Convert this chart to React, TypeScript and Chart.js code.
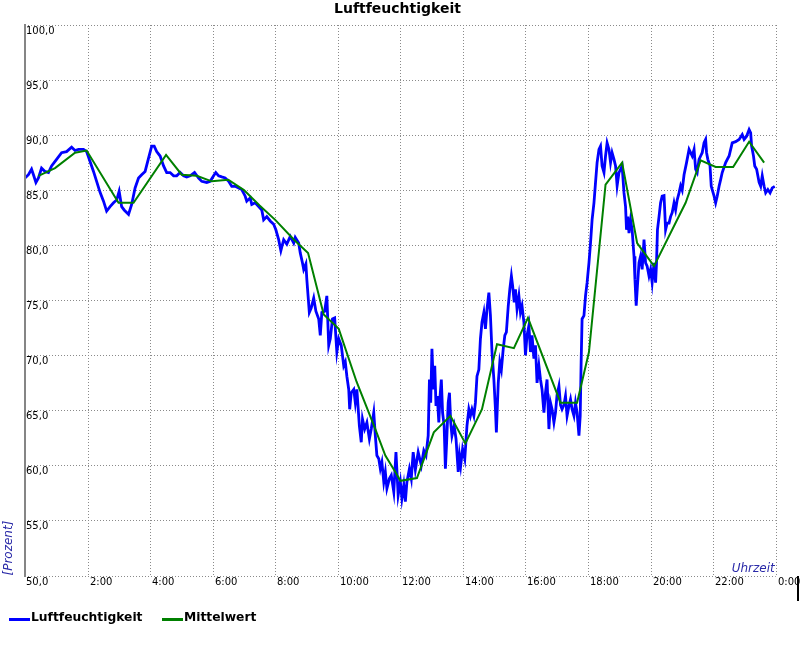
import React, { useEffect, useRef } from "react";
import { Chart, registerables } from "chart.js";

Chart.register(...registerables);

const chartTitle = "Luftfeuchtigkeit";
const seriesNames = ["Luftfeuchtigkeit", "Mittelwert"];
const xAxisTitle = "Uhrzeit";
const yAxisTitle = "[Prozent]";

const xTickHours = [2, 4, 6, 8, 10, 12, 14, 16, 18, 20, 22, 24];
const xTickLabels = ["2:00", "4:00", "6:00", "8:00", "10:00", "12:00", "14:00", "16:00", "18:00", "20:00", "22:00", "0:00"];
const yTickValues = [50, 55, 60, 65, 70, 75, 80, 85, 90, 95, 100];
const yTickLabels = ["50,0", "55,0", "60,0", "65,0", "70,0", "75,0", "80,0", "85,0", "90,0", "95,0", "100,0"];

// Luftfeuchtigkeit (hours of day, percent)
const humidityHours = [
  0.0, 0.11, 0.21, 0.27, 0.35, 0.43, 0.53, 0.64, 0.75, 0.85, 1.01, 1.17, 1.33, 1.49, 1.6, 1.71, 1.87, 1.97,
  2.08, 2.19, 2.29, 2.4, 2.51, 2.61, 2.72, 2.83, 2.93, 3.01, 3.09, 3.17, 3.31, 3.41, 3.52, 3.63, 3.73, 3.84, 3.95,
  4.05, 4.13, 4.21, 4.32, 4.43, 4.53, 4.64, 4.75, 4.85, 4.96, 5.07, 5.17, 5.28, 5.42, 5.55, 5.65, 5.81, 5.92,
  6.03, 6.1, 6.19, 6.29, 6.4, 6.51, 6.61, 6.72, 6.83, 6.93, 7.04, 7.09, 7.2, 7.25, 7.36, 7.47, 7.57, 7.63, 7.73,
  7.84, 7.95, 8.02, 8.11, 8.18, 8.27, 8.37, 8.48, 8.59, 8.64, 8.75, 8.8, 8.87, 8.91, 8.98, 9.01, 9.05, 9.09, 9.15,
  9.23, 9.3, 9.39, 9.44, 9.49, 9.58, 9.65, 9.71, 9.76, 9.83, 9.9, 9.97, 10.03, 10.11, 10.19, 10.24, 10.29, 10.35,
  10.38, 10.43, 10.51, 10.56, 10.61, 10.69, 10.75, 10.79, 10.86, 10.93, 11.01, 11.07, 11.15, 11.2, 11.25, 11.31,
  11.36, 11.41, 11.47, 11.52, 11.57, 11.65, 11.71, 11.79, 11.86, 11.93, 12.0, 12.05, 12.11, 12.16, 12.21, 12.29,
  12.35, 12.41, 12.48, 12.57, 12.67, 12.75, 12.82, 12.89, 12.93, 12.97, 13.01, 13.06, 13.1, 13.14, 13.18, 13.23,
  13.27, 13.31, 13.35, 13.4, 13.44, 13.48, 13.53, 13.57, 13.61, 13.65, 13.72, 13.78, 13.85, 13.89, 13.93, 13.99,
  14.06, 14.13, 14.19, 14.24, 14.29, 14.35, 14.4, 14.45, 14.51, 14.56, 14.61, 14.67, 14.72, 14.77, 14.83, 14.88,
  14.93, 14.99, 15.04, 15.07, 15.13, 15.18, 15.23, 15.29, 15.34, 15.39, 15.45, 15.5, 15.55, 15.59, 15.64, 15.68,
  15.73, 15.79, 15.84, 15.89, 15.95, 16.0, 16.05, 16.11, 16.16, 16.21, 16.27, 16.32, 16.37, 16.43, 16.48, 16.53,
  16.59, 16.64, 16.69, 16.75, 16.8, 16.85, 16.91, 16.96, 17.01, 17.07, 17.12, 17.17, 17.23, 17.28, 17.33, 17.39,
  17.44, 17.49, 17.55, 17.6, 17.65, 17.71, 17.75, 17.78, 17.81, 17.87, 17.92, 17.97, 18.03, 18.08, 18.13, 18.19,
  18.24, 18.29, 18.35, 18.4, 18.45, 18.51, 18.56, 18.61, 18.67, 18.72, 18.77, 18.83, 18.88, 18.93, 18.99, 19.04,
  19.09, 19.15, 19.2, 19.23, 19.27, 19.31, 19.36, 19.41, 19.47, 19.5, 19.54, 19.58, 19.63, 19.68, 19.73, 19.79,
  19.84, 19.89, 19.95, 20.0, 20.05, 20.11, 20.16, 20.19, 20.22, 20.27, 20.32, 20.37, 20.43, 20.48, 20.53, 20.59,
  20.64, 20.69, 20.75, 20.8, 20.85, 20.91, 20.96, 21.01, 21.07, 21.15, 21.23, 21.28, 21.33, 21.39, 21.44, 21.49,
  21.55, 21.6, 21.65, 21.71, 21.76, 21.79, 21.83, 21.9, 21.94, 21.97, 22.03, 22.08, 22.13, 22.19, 22.24, 22.29,
  22.4, 22.51, 22.61, 22.72, 22.83, 22.93, 22.99, 23.07, 23.15, 23.2, 23.23, 23.29, 23.33, 23.39, 23.47, 23.52,
  23.57, 23.63, 23.68, 23.75, 23.82, 23.89, 23.97,
];
const humidityValues = [
  86.1, 86.4, 86.9, 86.4, 85.7, 86.1, 87.0, 86.7, 86.6, 87.2, 87.8, 88.4, 88.5, 88.9, 88.6, 88.7, 88.7, 88.5,
  87.6, 86.7, 85.8, 84.8, 84.0, 83.1, 83.5, 83.85, 84.1, 84.9, 83.5, 83.2, 82.8, 83.7, 85.2, 86.1, 86.4, 86.7, 87.9,
  89.0, 89.0, 88.5, 88.1, 87.2, 86.6, 86.6, 86.3, 86.3, 86.6, 86.3, 86.2, 86.3, 86.6, 86.1, 85.8, 85.7, 85.8,
  86.3, 86.6, 86.3, 86.2, 86.1, 85.8, 85.35, 85.35, 85.2, 85.05, 84.45, 84.0, 84.3, 83.7, 83.85, 83.5, 83.2, 82.3, 82.6,
  82.2, 81.9, 81.4, 80.5, 79.5, 80.5, 80.1, 80.8, 80.2, 80.7, 80.2, 79.3, 78.4, 77.8, 78.3, 76.9, 75.4, 73.9, 74.3,
  75.2, 74.0, 73.3, 71.8, 73.9, 74.0, 75.4, 70.9, 71.5, 73.3, 73.4, 70.3, 71.5, 70.9, 69.05, 69.4, 68.1, 66.9,
  65.1, 66.6, 66.9, 65.7, 66.9, 63.6, 62.1, 64.2, 63.3, 63.9, 62.4, 63.3, 64.8, 62.7, 60.9, 60.6,
  59.7, 60.3, 58.5, 59.4, 57.9, 58.8, 59.1, 57.6, 61.2, 57.3, 58.5, 57.0, 58.2, 56.7, 58.5, 59.7,
  58.8, 61.2, 59.6, 61.2, 60.0, 61.35, 60.9, 62.7, 67.8, 65.7, 70.6, 66.9, 69.05, 65.4, 66.3, 63.9,
  66.3, 67.8, 64.8, 63.6, 59.7, 62.1, 65.7, 66.6, 63.9, 62.7, 63.6, 62.4, 59.4, 60.9, 60.0, 61.5,
  60.6, 63.6, 65.1, 64.5, 65.1, 64.5, 65.7, 68.1, 68.7, 71.5, 73.0, 73.9, 72.4, 74.2, 75.7, 73.6,
  70.3, 67.8, 65.1, 63.0, 67.5, 69.4, 68.7, 70.6, 71.8, 72.1, 74.5, 76.0, 77.2, 76.3, 74.8, 76.0,
  74.2, 75.4, 73.9, 74.5, 73.0, 70.0, 71.8, 72.7, 70.3, 71.8, 69.7, 70.9, 67.5, 69.05, 67.8, 66.9,
  64.8, 66.6, 67.8, 63.3, 65.7, 65.1, 63.9, 64.8, 66.4, 67.2, 65.5, 65.1, 65.5, 66.3, 64.5, 65.4,
  66.0, 65.1, 64.5, 65.7, 64.8, 62.7, 64.5, 69.4, 73.3, 73.6, 75.4, 76.6, 78.4, 80.2, 82.3, 83.85,
  85.7, 87.5, 88.7, 89.0, 87.2, 86.6, 88.1, 89.3, 88.7, 87.5, 88.4, 87.8, 87.2, 85.4, 86.6, 86.9,
  87.2, 84.75, 83.5, 81.4, 82.6, 81.1, 82.3, 81.4, 79.0, 76.9, 74.5, 76.3, 78.4, 79.0, 77.8, 80.5,
  78.4, 78.1, 77.2, 77.8, 76.6, 78.4, 76.6, 78.4, 81.4, 82.6, 83.85, 84.45, 84.5, 81.4, 82.0, 82.0,
  82.6, 82.95, 83.85, 83.2, 84.1, 84.75, 85.4, 85.0, 86.4, 87.5, 88.7, 88.4, 88.1, 88.7, 86.9, 86.6,
  87.8, 88.1, 88.4, 89.3, 89.6, 88.4, 87.8, 87.2, 85.35, 85.05, 84.45, 83.85, 84.45, 85.35, 85.95, 86.6,
  87.5, 88.1, 89.3, 89.4, 89.6, 90.05, 89.6, 89.9, 90.5, 90.2, 89.0, 88.1, 87.2, 86.9, 85.7, 85.35,
  86.3, 85.35, 84.75, 85.05, 84.75, 85.2, 85.35,
];

// Mittelwert (hours of day, percent)
const avgHours = [
  0.43, 0.96, 1.6, 1.97, 2.99, 3.47, 4.51, 5.01, 5.49, 5.97, 6.5, 7.0, 7.5, 8.0, 8.6, 9.05, 9.55, 10.03, 10.6,
  11.2, 11.52, 11.84, 12.0, 12.53, 13.07, 13.6, 14.08, 14.61, 15.09, 15.63, 16.08, 17.12, 17.65, 18.03, 18.56,
  19.09, 19.57, 20.11, 21.12, 21.6, 22.08, 22.64, 23.15, 23.63,
];
const avgValues = [
  86.3, 87.0, 88.4, 88.6, 83.85, 83.85, 88.2, 86.4, 86.3, 85.8, 85.95, 85.0, 83.6, 82.3, 80.5, 79.3, 73.7, 72.4, 67.6,
  63.3, 60.9, 59.4, 58.6, 58.85, 63.0, 64.5, 62.0, 65.1, 71.0, 70.65, 73.4, 65.7, 65.7, 70.3, 85.5,
  87.5, 80.2, 78.1, 83.85, 87.7, 87.1, 87.1, 89.4, 87.5,
];

const BLUE = "#0000ff";
const GREEN = "#008000";
const AXIS_TITLE_COLOR = "#2a2aa8";
const FONT = "'DejaVu Sans', sans-serif";

const decorPlugin = {
  id: "decor",
  beforeDatasetsDraw(chart: any) {
    const ctx = chart.ctx as CanvasRenderingContext2D;
    const xs = chart.scales.x;
    const ys = chart.scales.y;
    const left = xs.getPixelForValue(0);
    const right = xs.getPixelForValue(24);
    const top = ys.getPixelForValue(100);
    const bottom = ys.getPixelForValue(50);
    ctx.save();
    ctx.strokeStyle = "#8a8a8a";
    ctx.lineWidth = 1;
    ctx.setLineDash([1, 2]);
    for (const v of yTickValues) {
      const y = Math.round(ys.getPixelForValue(v)) + 0.5;
      ctx.beginPath();
      ctx.moveTo(left, y);
      ctx.lineTo(right, y);
      ctx.stroke();
    }
    for (const h of xTickHours) {
      const x = Math.round(xs.getPixelForValue(h)) + 0.5;
      ctx.beginPath();
      ctx.moveTo(x, top);
      ctx.lineTo(x, bottom);
      ctx.stroke();
    }
    ctx.setLineDash([]);
    ctx.restore();
  },
  afterDatasetsDraw(chart: any) {
    const ctx = chart.ctx as CanvasRenderingContext2D;
    const xs = chart.scales.x;
    const ys = chart.scales.y;
    const left = xs.getPixelForValue(0);
    const right = xs.getPixelForValue(24);
    const top = ys.getPixelForValue(100);
    const bottom = ys.getPixelForValue(50);
    ctx.save();
    // left axis line
    ctx.fillStyle = "#858585";
    ctx.fillRect(Math.round(left) - 1, Math.round(top) - 1, 2, Math.round(bottom - top) + 2);

    // y tick labels (inside plot, below gridline)
    ctx.fillStyle = "#000";
    ctx.font = `10px ${FONT}`;
    ctx.textAlign = "left";
    ctx.textBaseline = "alphabetic";
    yTickValues.forEach((v, i) => {
      const y = Math.round(ys.getPixelForValue(v));
      ctx.fillText(yTickLabels[i], left + 1, y + 9);
    });
    // x tick labels
    xTickHours.forEach((h, i) => {
      const x = Math.round(xs.getPixelForValue(h));
      ctx.fillText(xTickLabels[i], x + 2, bottom + 9);
    });

    // axis titles
    ctx.fillStyle = AXIS_TITLE_COLOR;
    ctx.font = `italic 12px ${FONT}`;
    ctx.textAlign = "right";
    ctx.fillText(xAxisTitle, right - 1, bottom - 4);
    ctx.save();
    ctx.translate(12, bottom);
    ctx.rotate(-Math.PI / 2);
    ctx.textAlign = "left";
    ctx.fillText(yAxisTitle, 0, 0);
    ctx.restore();

    // title
    ctx.fillStyle = "#000";
    ctx.font = `bold 14px ${FONT}`;
    ctx.textAlign = "center";
    ctx.fillText(chartTitle, 397.5, 13);

    // legend
    ctx.font = `bold 12.3px ${FONT}`;
    ctx.textAlign = "left";
    const legendY = 621;
    let lx = 9;
    const colors = [BLUE, GREEN];
    seriesNames.forEach((name, i) => {
      ctx.fillStyle = colors[i];
      ctx.fillRect(lx, legendY - 3, 21, 3);
      ctx.fillStyle = "#000";
      ctx.fillText(name, lx + 22, legendY);
      lx = 162;
    });

    // right edge mark
    ctx.fillStyle = "#000";
    ctx.fillRect(797, Math.round(bottom), 2, 25);
    ctx.restore();
  },
};

export default function App() {
  const canvasRef = useRef<HTMLCanvasElement>(null);
  useEffect(() => {
    const canvas = canvasRef.current;
    if (!canvas) return;
    const chart = new Chart(canvas, {
      type: "line",
      data: {
        datasets: [
          {
            label: seriesNames[0],
            data: humidityHours.map((h, i) => ({ x: h, y: humidityValues[i] })),
            borderColor: BLUE,
            backgroundColor: BLUE,
            borderWidth: 2.8,
            pointRadius: 0,
            tension: 0,
            order: 1,
          },
          {
            label: seriesNames[1],
            data: avgHours.map((h, i) => ({ x: h, y: avgValues[i] })),
            borderColor: GREEN,
            backgroundColor: GREEN,
            borderWidth: 2,
            pointRadius: 0,
            tension: 0,
            order: 0,
          },
        ],
      },
      options: {
        animation: false,
        responsive: false,
        devicePixelRatio: 1,
        events: [],
        layout: { padding: { left: 25, top: 25, right: 24.3, bottom: 74.5 } },
        scales: {
          x: { type: "linear", min: 0, max: 24, display: false },
          y: { type: "linear", min: 50, max: 100, display: false },
        },
        plugins: {
          legend: { display: false },
          title: { display: false },
          tooltip: { enabled: false },
        },
      },
      plugins: [decorPlugin],
    });
    return () => chart.destroy();
  }, []);
  return (
    <div style={{ position: "absolute", left: 0, top: 0, width: 800, height: 650, background: "#fff" }}>
      <canvas ref={canvasRef} width={800} height={650} style={{ display: "block", width: 800, height: 650 }} />
    </div>
  );
}
